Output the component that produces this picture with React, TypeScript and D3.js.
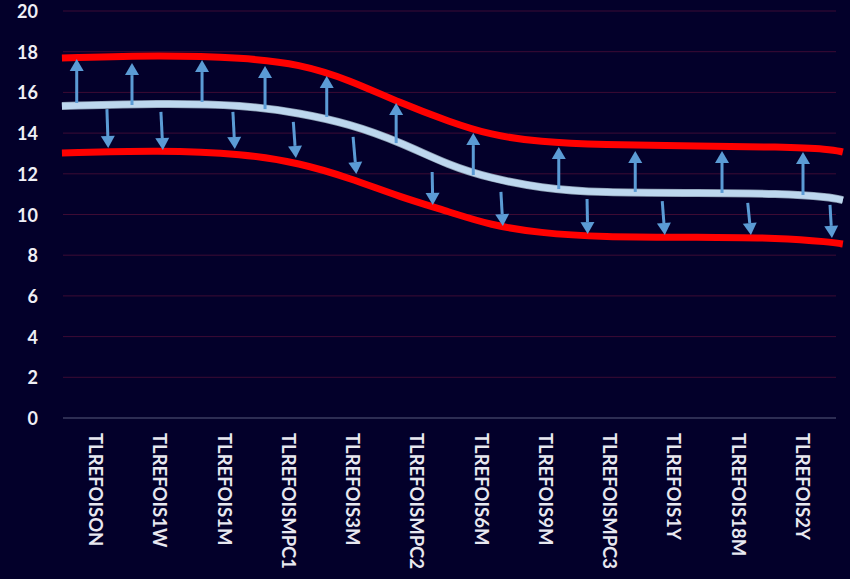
import React from "react";
import * as d3 from "d3";

const categories = [
  "TLREFOISON", "TLREFOIS1W", "TLREFOIS1M", "TLREFOISMPC1", "TLREFOIS3M", "TLREFOISMPC2",
  "TLREFOIS6M", "TLREFOIS9M", "TLREFOISMPC3", "TLREFOIS1Y", "TLREFOIS18M", "TLREFOIS2Y",
];
const yTicks = [0, 2, 4, 6, 8, 10, 12, 14, 16, 18, 20];

// curve samples: position in category-index units, value
const curvePos = [-0.53, 1.0, 2.3, 3.17, 3.95, 4.73, 5.51, 6.13, 6.91, 7.84, 9.4, 10.64, 11.42, 11.62];
const upperBand = [17.69, 17.84, 17.7, 17.4, 16.61, 15.48, 14.55, 13.91, 13.56, 13.42, 13.37, 13.32, 13.22, 13.07];
const midLine = [15.33, 15.46, 15.38, 14.99, 14.45, 13.56, 12.38, 11.79, 11.3, 11.06, 11.06, 11.03, 10.86, 10.71];
const lowerBand = [13.02, 13.17, 12.98, 12.53, 11.79, 10.86, 10.12, 9.48, 9.09, 8.89, 8.89, 8.85, 8.65, 8.55];

// up arrows: position, base value, tip value
const upPos = [-0.3, 0.56, 1.65, 2.63, 3.59, 4.67, 5.87, 7.2, 8.39, 9.74, 11.0];
const upFrom = [15.48, 15.38, 15.53, 15.18, 14.79, 13.51, 11.94, 11.25, 11.11, 11.06, 10.96];
const upTo = [17.64, 17.44, 17.59, 17.3, 16.81, 15.48, 14.0, 13.32, 13.12, 13.12, 13.07];

// down arrows: start position, end position, start value, tip value
const downPos0 = [0.17, 1.01, 2.13, 3.07, 4.0, 5.23, 6.3, 7.64, 8.81, 10.14, 11.42];
const downPos1 = [0.19, 1.04, 2.16, 3.11, 4.05, 5.24, 6.33, 7.65, 8.85, 10.19, 11.45];
const downFrom = [15.18, 15.04, 15.04, 14.55, 13.81, 12.09, 11.11, 10.76, 10.66, 10.57, 10.47];
const downTo = [13.27, 13.17, 13.22, 12.78, 11.99, 10.47, 9.43, 9.04, 8.99, 8.99, 8.85];

const W = 850;
const H = 579;
const BG = "#03002a";
const FONT = "Lato, 'Open Sans', sans-serif";

function Arrow({ x0, y0, x1, y1 }: { x0: number; y0: number; x1: number; y1: number }) {
  const dx = x1 - x0;
  const dy = y1 - y0;
  const len = Math.sqrt(dx * dx + dy * dy);
  const ux = dx / len;
  const uy = dy / len;
  const px = -uy;
  const py = ux;
  const headL = 12;
  const headW = 7;
  const bx = x1 - ux * headL;
  const by = y1 - uy * headL;
  const pts = [
    [x1, y1],
    [bx + px * headW, by + py * headW],
    [bx - px * headW, by - py * headW],
  ];
  return (
    <g>
      <line x1={x0} y1={y0} x2={bx} y2={by} stroke="#5b9bd5" strokeWidth={3} />
      <polygon points={pts.map((p) => p.join(",")).join(" ")} fill="#5b9bd5" />
    </g>
  );
}

export default function App() {
  const x = d3.scaleLinear().domain([0, 11]).range([96, 803]);
  const y = d3.scaleLinear().domain([0, 20]).range([418, 11]);
  const plotLeft = 63;
  const plotRight = 836;

  const line = d3
    .line<[number, number]>()
    .x((d) => x(d[0]))
    .y((d) => y(d[1]))
    .curve(d3.curveBasis);

  const mk = (vals: number[]) => curvePos.map((p, i) => [p, vals[i]] as [number, number]);

  return (
    <svg
      width={W}
      height={H}
      style={{ position: "absolute", left: 0, top: 0, display: "block" }}
      fontFamily={FONT}
    >
      <rect x={0} y={0} width={W} height={H} fill={BG} />
      {yTicks.map((t) => (
        <g key={t}>
          <line
            x1={plotLeft}
            x2={plotRight}
            y1={y(t)}
            y2={y(t)}
            stroke={t === 0 ? "#3c3c62" : "#3d0b34"}
            strokeWidth={t === 0 ? 1.5 : 1}
          />
          <text
            x={38}
            y={y(t)}
            textAnchor="end"
            dominantBaseline="central"
            fill="#efeff5"
            fontSize={18}
            fontWeight="bold"
          >
            {t}
          </text>
        </g>
      ))}
      {categories.map((c, i) => (
        <text
          key={c}
          transform={`translate(${x(i)},433) rotate(90)`}
          textAnchor="start"
          dominantBaseline="central"
          fill="#e8e8f0"
          fontSize={18.5}
          fontWeight="bold"
        >
          {c}
        </text>
      ))}
      <path d={line(mk(upperBand)) || ""} fill="none" stroke="#ff0000" strokeWidth={7} strokeLinecap="butt" />
      <path d={line(mk(lowerBand)) || ""} fill="none" stroke="#ff0000" strokeWidth={7} strokeLinecap="butt" />
      <path d={line(mk(midLine)) || ""} fill="none" stroke="#8a9bb0" strokeWidth={8} strokeLinecap="butt" />
      <path d={line(mk(midLine)) || ""} fill="none" stroke="#bdd7ee" strokeWidth={6.5} strokeLinecap="butt" />
      {upPos.map((p, i) => (
        <Arrow key={"u" + i} x0={x(p)} y0={y(upFrom[i])} x1={x(p)} y1={y(upTo[i])} />
      ))}
      {downPos0.map((p, i) => (
        <Arrow key={"d" + i} x0={x(p)} y0={y(downFrom[i])} x1={x(downPos1[i])} y1={y(downTo[i])} />
      ))}
    </svg>
  );
}
